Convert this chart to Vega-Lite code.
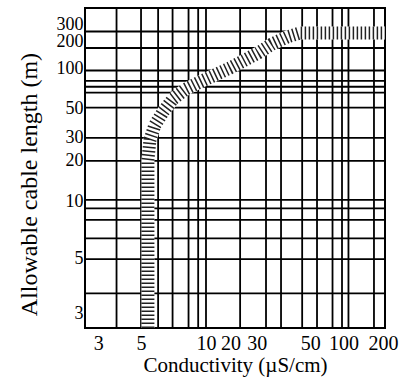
{
  "$schema": "https://vega.github.io/schema/vega-lite/v6.json",
  "width": 300,
  "height": 320,
  "autosize": {"type": "none"},
  "padding": {"left": 85, "top": 8, "right": 22, "bottom": 55},
  "background": "white",
  "config": {
    "view": {"stroke": "black", "strokeWidth": 2},
    "font": "Liberation Serif"
  },
  "datasets": {
    "xgrid": [
      {"x": 3.85}, {"x": 5}, {"x": 6}, {"x": 7}, {"x": 8.3}, {"x": 9.2}, {"x": 10},
      {"x": 17.7}, {"x": 27.3}, {"x": 35.1}, {"x": 50}, {"x": 64.1}, {"x": 83.1},
      {"x": 97.4}, {"x": 108.5}, {"x": 166.3}
    ],
    "ygrid": [
      {"y": 3.62}, {"y": 4.95}, {"y": 6.35}, {"y": 7.94}, {"y": 9.15}, {"y": 10.2},
      {"y": 20}, {"y": 29.8}, {"y": 50.3}, {"y": 65.2}, {"y": 72.3}, {"y": 80},
      {"y": 95.8}, {"y": 166.8}, {"y": 254.4}
    ],
    "band": [
      {"seq": 1, "x": 5.38, "y": 2.64},
      {"seq": 2, "x": 5.38, "y": 20.3},
      {"seq": 3, "x": 5.5, "y": 28.8},
      {"seq": 4, "x": 5.8, "y": 37.3},
      {"seq": 5, "x": 6.32, "y": 46.7},
      {"seq": 6, "x": 7.03, "y": 58.5},
      {"seq": 7, "x": 8.07, "y": 69.5},
      {"seq": 8, "x": 9.37, "y": 78.5},
      {"seq": 9, "x": 11.6, "y": 88.6},
      {"seq": 10, "x": 14.9, "y": 100},
      {"seq": 11, "x": 19.2, "y": 122.7},
      {"seq": 12, "x": 23.9, "y": 146.8},
      {"seq": 13, "x": 30.2, "y": 184.8},
      {"seq": 14, "x": 38.8, "y": 221},
      {"seq": 15, "x": 48.2, "y": 244.8},
      {"seq": 16, "x": 200, "y": 244.8}
    ]
  },
  "layer": [
    {
      "data": {"name": "xgrid"},
      "mark": {"type": "rule", "color": "black", "strokeWidth": 1.8},
      "encoding": {
        "x": {
          "field": "x", "type": "quantitative",
          "scale": {"type": "log", "domain": [2.75, 10, 200], "range": [0, 121, 300], "nice": false, "zero": false},
          "axis": {
            "values": [3, 5, 10, 20, 30, 50, 100, 200],
            "labelExpr": "format(datum.value, 'd')",
            "labelOffset": {"expr": "datum.value == 3 ? 5 : datum.value == 20 ? -17 : datum.value == 30 ? -15 : datum.value == 50 ? 8 : datum.value == 200 ? -2 : 0"},
            "grid": false, "ticks": false, "domain": false,
            "labelFlush": false, "labelOverlap": false, "labelBound": false,
            "labelFont": "Liberation Serif", "labelFontSize": 20, "labelColor": "black", "labelPadding": 5,
            "title": "Conductivity (µS/cm)",
            "titleFont": "Liberation Serif", "titleFontSize": 21, "titleFontWeight": "normal", "titleColor": "black", "titlePadding": 1
          }
        }
      }
    },
    {
      "data": {"name": "ygrid"},
      "mark": {"type": "rule", "color": "black", "strokeWidth": 1.8},
      "encoding": {
        "y": {
          "field": "y", "type": "quantitative",
          "scale": {"type": "log", "domain": [2.64, 5, 10, 100, 464], "range": [320, 250, 193, 60, 0], "nice": false, "zero": false},
          "axis": {
            "values": [3, 5, 10, 20, 30, 50, 100, 200, 300],
            "labelExpr": "format(datum.value, 'd')",
            "labelOffset": {"expr": "datum.value == 300 ? -1 : datum.value == 200 ? 1 : 0"},
            "grid": false, "ticks": false, "domain": false,
            "labelFlush": false, "labelOverlap": false, "labelBound": false,
            "labelFont": "Liberation Serif", "labelFontSize": 18, "labelColor": "black", "labelPadding": 2,
            "title": "Allowable cable length (m)",
            "titleFont": "Liberation Serif", "titleFontSize": 24, "titleFontWeight": "normal", "titleColor": "black", "titlePadding": 15,
            "titleY": 176
          }
        }
      }
    },
    {
      "data": {"name": "band"},
      "mark": {"type": "line", "color": "white", "strokeWidth": 13, "strokeCap": "butt", "strokeJoin": "round"},
      "encoding": {
        "x": {"field": "x", "type": "quantitative"},
        "y": {"field": "y", "type": "quantitative"},
        "order": {"field": "seq"}
      }
    },
    {
      "data": {"name": "band"},
      "mark": {"type": "line", "color": "#222222", "strokeWidth": 13, "strokeDash": [1.5, 2.5], "strokeCap": "butt", "strokeJoin": "round"},
      "encoding": {
        "x": {"field": "x", "type": "quantitative"},
        "y": {"field": "y", "type": "quantitative"},
        "order": {"field": "seq"}
      }
    }
  ]
}
